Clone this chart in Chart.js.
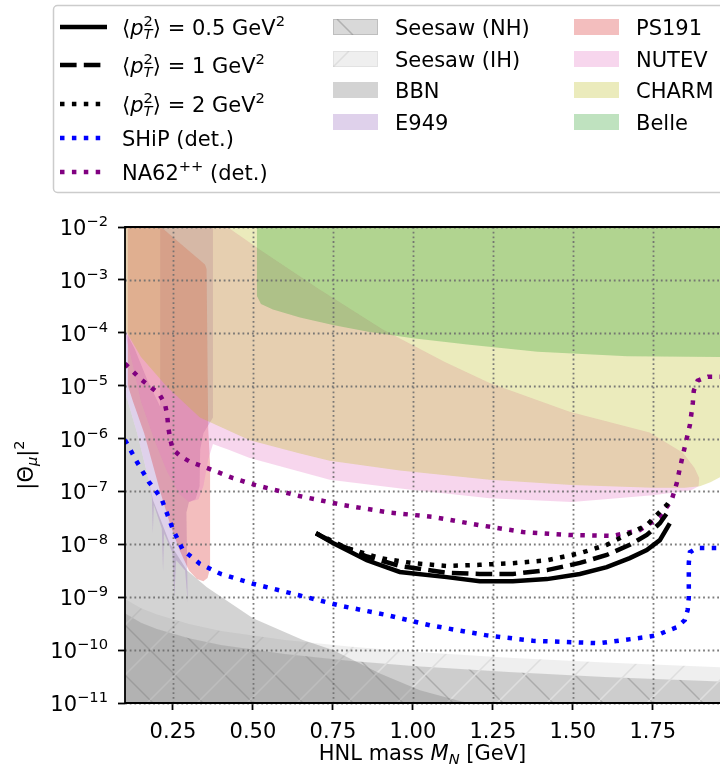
<!DOCTYPE html>
<html>
<head>
<meta charset="utf-8">
<title>HNL sensitivity</title>
<script src="https://cdn.jsdelivr.net/npm/chart.js@4.4.0/dist/chart.umd.min.js"></script>
<style>
  html, body { margin: 0; padding: 0; background: #fff; }
  canvas { display: block; }
</style>
</head>
<body>
<canvas id="hnlChart" width="720" height="769"></canvas>
<script>
// ---- axis ticks ----
const xTicks = [0.25, 0.5, 0.75, 1.0, 1.25, 1.5, 1.75];
const yTicks = [1e-11, 1e-10, 1e-9, 1e-8, 1e-7, 1e-6, 1e-5, 1e-4, 1e-3, 1e-2];
const yTickExp = ['−11', '−10', '−9', '−8', '−7', '−6', '−5', '−4', '−3', '−2'];

// ---- seesaw bands (filled down to the axis) ----
const seesawMass = [0.1, 0.15, 0.2, 0.3, 0.4, 0.6, 0.8, 1.0, 1.3, 1.6, 1.96];
const seesawNH = [5.0e-10, 3.3e-10, 2.5e-10, 1.67e-10, 1.25e-10, 8.4e-11, 6.3e-11, 5.0e-11, 3.85e-11, 3.1e-11, 2.55e-11];
const seesawIH = [9.3e-10, 6.2e-10, 4.7e-10, 3.1e-10, 2.3e-10, 1.55e-10, 1.17e-10, 9.3e-11, 7.2e-11, 5.8e-11, 4.75e-11];

// ---- BBN (filled down to the axis) ----
const bbnMass = [0.1, 0.109, 0.1375, 0.169, 0.1875, 0.24, 0.294, 0.356, 0.5, 0.656, 0.75, 0.897, 1.022, 1.14, 1.25];
const bbnMix = [7.1e-6, 5.0e-6, 1.3e-6, 2.2e-7, 6.9e-8, 1.05e-8, 3.2e-9, 1.55e-9, 4.0e-10, 1.55e-10, 1.0e-10, 3.6e-11, 1.74e-11, 1.12e-11, 7.9e-12];

// ---- E949 (closed outline) ----
const e949Mass = [0.1, 0.13, 0.17, 0.21, 0.21, 0.375, 0.375, 0.345, 0.335, 0.333, 0.32, 0.30, 0.292, 0.296, 0.288, 0.26, 0.254, 0.248, 0.222, 0.219, 0.215, 0.19, 0.187, 0.184, 0.169, 0.1375, 0.109, 0.1];
const e949Mix = [1.12e-4, 5.0e-5, 1.26e-5, 4.0e-6, 0.1, 0.1, 2.5e-6, 1.26e-6, 6.3e-7, 1.26e-7, 7.1e-8, 6.3e-8, 4.0e-8, 7.9e-10, 3.2e-9, 5.0e-9, 1.0e-9, 7.1e-9, 1.6e-8, 3.0e-9, 2.0e-8, 5.6e-8, 1.6e-8, 7.9e-8, 2.2e-7, 1.3e-6, 5.0e-6, 7.1e-6];

// ---- PS191 (closed outline) ----
const ps191Mass = [0.109, 0.2125, 0.35, 0.355, 0.36, 0.366, 0.366, 0.358, 0.345, 0.325, 0.30, 0.27, 0.24, 0.21, 0.16, 0.125, 0.109];
const ps191Mix = [0.0316, 1.0e-2, 1.95e-3, 1.6e-3, 1.6e-6, 3.2e-7, 3.5e-9, 2.3e-9, 2.0e-9, 2.2e-9, 3.2e-9, 7.9e-9, 2.5e-8, 1.0e-7, 1.26e-6, 5.0e-6, 1.0e-5];

// ---- NUTEV (closed outline) ----
const nutevMass = [0.1, 0.18, 0.42, 0.52, 0.70, 0.906, 1.1, 1.24, 1.49, 1.74, 1.844, 1.88, 1.895, 1.893, 1.87, 1.75, 1.497, 1.24, 1.0, 0.74, 0.49, 0.42, 0.40, 0.375, 0.36, 0.345, 0.33, 0.30, 0.27, 0.23, 0.19, 0.15, 0.12, 0.1];
const nutevMix = [0.1, 0.1, 1.0e-2, 3.8e-3, 7.1e-4, 1.15e-4, 2.8e-5, 1.12e-5, 3.2e-6, 1.3e-6, 5.4e-7, 2.8e-7, 1.8e-7, 1.26e-7, 1.05e-7, 8.5e-8, 6.3e-8, 7.4e-8, 1.07e-7, 1.66e-7, 4.3e-7, 6.3e-7, 6.9e-7, 7.9e-7, 4.0e-7, 1.26e-7, 7.1e-8, 6.3e-8, 8.9e-8, 2.5e-7, 1.0e-6, 5.0e-6, 3.2e-5, 1.0e-4];

// ---- CHARM (filled up to the top) ----
const charmMass = [0.1, 0.106, 0.15, 0.231, 0.334, 0.49, 0.647, 0.74, 0.959, 1.24, 1.497, 1.75, 1.85, 1.897, 1.93, 1.96];
const charmMix = [1.12e-4, 1.0e-4, 3.5e-5, 9.5e-6, 2.5e-6, 9.3e-7, 5.2e-7, 3.8e-7, 2.5e-7, 1.66e-7, 1.32e-7, 1.17e-7, 1.17e-7, 1.26e-7, 1.5e-7, 1.86e-7];

// ---- Belle (filled up to the top) ----
const belleMass = [0.512, 0.512, 0.525, 0.5625, 0.647, 0.75, 0.86, 1.0, 1.17, 1.39, 1.67, 1.96];
const belleMix = [0.1, 5.0e-4, 3.5e-4, 2.75e-4, 1.95e-4, 1.4e-4, 1.05e-4, 7.9e-5, 6.0e-5, 4.4e-5, 3.6e-5, 3.5e-5];

// ---- sensitivity curves ----
const pt05Mass = [0.697, 0.75, 0.856, 0.959, 1.106, 1.209, 1.3125, 1.419, 1.522, 1.606, 1.678, 1.731, 1.772, 1.803];
const pt05Mix = [1.62e-8, 1.06e-8, 5.0e-9, 3.0e-9, 2.4e-9, 2.0e-9, 2.0e-9, 2.2e-9, 2.75e-9, 3.7e-9, 5.5e-9, 7.8e-9, 1.2e-8, 2.5e-8];
const pt1Mass = [0.697, 0.75, 0.856, 0.959, 1.106, 1.209, 1.3125, 1.419, 1.522, 1.606, 1.678, 1.731, 1.772, 1.797];
const pt1Mix = [1.62e-8, 1.1e-8, 5.9e-9, 3.9e-9, 2.9e-9, 2.75e-9, 2.75e-9, 3.25e-9, 4.45e-9, 6.3e-9, 9.8e-9, 1.5e-8, 2.5e-8, 4.1e-8];
const pt2Mass = [0.697, 0.794, 0.897, 1.0, 1.106, 1.209, 1.3125, 1.419, 1.522, 1.606, 1.678, 1.731, 1.794, 1.81];
const pt2Mix = [1.62e-8, 8.5e-9, 5.5e-9, 4.4e-9, 3.9e-9, 4.1e-9, 4.4e-9, 5.0e-9, 6.8e-9, 9.8e-9, 1.62e-8, 2.3e-8, 5.6e-8, 7.6e-8];
const shipMass = [0.1, 0.1375, 0.175, 0.194, 0.2156, 0.25, 0.281, 0.334, 0.4, 0.5, 0.641, 0.778, 0.919, 1.053, 1.231, 1.375, 1.584, 1.725, 1.7625, 1.794, 1.825, 1.85, 1.859, 1.8625, 1.8625, 1.866, 1.8875, 1.96];
const shipMix = [9.4e-7, 3.6e-7, 1.5e-7, 1.07e-7, 6.9e-8, 1.9e-8, 7.8e-9, 4.3e-9, 2.75e-9, 1.8e-9, 1.1e-9, 6.8e-10, 4.6e-10, 2.95e-10, 1.9e-10, 1.5e-10, 1.35e-10, 1.75e-10, 1.9e-10, 2.3e-10, 2.7e-10, 3.7e-10, 5.8e-10, 1.0e-9, 4.5e-9, 7.1e-9, 8.5e-9, 8.5e-9];
const na62Mass = [0.1, 0.152, 0.207, 0.225, 0.232, 0.235, 0.2406, 0.249, 0.274, 0.305, 0.373, 0.438, 0.506, 0.645, 0.784, 0.926, 1.0625, 1.209, 1.344, 1.49, 1.625, 1.709, 1.772, 1.809, 1.825, 1.834, 1.85, 1.866, 1.875, 1.878, 1.89, 1.922, 1.96];
const na62Mix = [2.6e-5, 1.28e-5, 7.0e-6, 4.5e-6, 2.75e-6, 1.69e-6, 1.02e-6, 6.3e-7, 4.6e-7, 3.6e-7, 2.55e-7, 1.78e-7, 1.33e-7, 8.2e-8, 5.5e-8, 4.0e-8, 3.3e-8, 2.3e-8, 1.71e-8, 1.5e-8, 1.44e-8, 1.86e-8, 3.3e-8, 6.9e-8, 1.45e-7, 2.67e-7, 7.0e-7, 1.82e-6, 4.7e-6, 8.0e-6, 1.24e-5, 1.48e-5, 1.48e-5];

// ---- styling ----
const FONT = '"DejaVu Sans", sans-serif';
const FS = 21;
const LW = 4.5;
const DASHED = [16.6, 7.2];
const DOTTED = [4.5, 7.4];
const colors = {
    nh: 'rgba(128,128,128,0.3)',
    ih: 'rgba(128,128,128,0.13)',
    bbn: 'rgba(128,128,128,0.35)',
    e949: 'rgba(148,103,189,0.3)',
    ps191: 'rgba(214,39,40,0.3)',
    nutev: 'rgba(227,119,194,0.3)',
    charm: 'rgba(188,189,34,0.3)',
    belle: 'rgba(44,160,44,0.3)',
    ship: '#0000ff',
    na62: '#800080',
};

Chart.defaults.font.family = FONT;
Chart.defaults.color = '#000';

const canvas = document.getElementById('hnlChart');
const ctx = canvas.getContext('2d');

// hatch tile: dir '\\' or '/'
function hatch(fill, line, dir) {
    const s = 50;
    const c = document.createElement('canvas');
    c.width = s; c.height = s;
    const g = c.getContext('2d');
    g.fillStyle = fill;
    g.fillRect(0, 0, s, s);
    g.strokeStyle = line;
    g.lineWidth = 1.5;
    g.beginPath();
    for (const off of [-s, 0, s]) {
        if (dir === '/') { g.moveTo(off, s); g.lineTo(off + s, 0); }
        else { g.moveTo(off, 0); g.lineTo(off + s, s); }
    }
    g.stroke();
    return ctx.createPattern(c, 'repeat');
}
const nhPattern = hatch(colors.nh, 'rgba(128,128,128,0.45)', '\\');
const ihPattern = hatch(colors.ih, 'rgb(222,222,222)', '/');

const pts = (xs, ys) => xs.map((x, i) => ({ x: x, y: ys[i] }));

function region(label, xs, ys, color, fill, order) {
    return {
        label: label, data: pts(xs, ys), showLine: true, pointRadius: 0,
        borderWidth: 0, borderColor: 'rgba(0,0,0,0)', backgroundColor: color,
        fill: fill, order: order, tension: 0,
    };
}
function curve(label, xs, ys, color, dash) {
    return {
        label: label, data: pts(xs, ys), showLine: true, pointRadius: 0,
        borderWidth: LW, borderColor: color, borderDash: dash, borderCapStyle: 'butt',
        fill: false, order: 0, tension: 0,
    };
}

const datasets = [
    curve('pt05', pt05Mass, pt05Mix, '#000', []),
    curve('pt1', pt1Mass, pt1Mix, '#000', DASHED),
    curve('pt2', pt2Mass, pt2Mix, '#000', DOTTED),
    curve('SHiP', shipMass, shipMix, colors.ship, DOTTED),
    curve('NA62', na62Mass, na62Mix, colors.na62, DOTTED),
    region('Belle', belleMass, belleMix, colors.belle, 'end', 1),
    region('CHARM', charmMass, charmMix, colors.charm, 'end', 2),
    region('NUTEV', nutevMass, nutevMix, colors.nutev, 'shape', 3),
    region('PS191', ps191Mass, ps191Mix, colors.ps191, 'shape', 4),
    region('E949', e949Mass, e949Mix, colors.e949, 'shape', 5),
    region('BBN', bbnMass, bbnMix, colors.bbn, 'start', 6),
    region('Seesaw (IH)', seesawMass, seesawIH, ihPattern, 'start', 7),
    region('Seesaw (NH)', seesawMass, seesawNH, nhPattern, 'start', 8),
];

// ---- mathtext-like drawing ----
function rich(c, x, y, parts, size, draw) {
    let cx = x;
    const s = size * 0.7;
    for (const p of parts) {
        if (p.t !== undefined) {
            c.font = (p.it ? 'italic ' : '') + size + 'px ' + FONT;
            if (draw) c.fillText(p.t, cx, y);
            cx += c.measureText(p.t).width;
        } else {
            let w = 0;
            if (p.sup) {
                c.font = s + 'px ' + FONT;
                if (draw) c.fillText(p.sup, cx, y - size * 0.42);
                w = Math.max(w, c.measureText(p.sup).width);
            }
            if (p.sub) {
                c.font = (p.subIt ? 'italic ' : '') + s + 'px ' + FONT;
                if (draw) c.fillText(p.sub, cx, y + size * 0.2);
                w = Math.max(w, c.measureText(p.sub).width);
            }
            cx += w;
        }
    }
    return cx - x;
}

const lineEntries = [
    { y: 27, color: '#000', dash: [], parts: [{ t: '⟨' }, { t: 'p', it: true }, { sup: '2', sub: 'T', subIt: true }, { t: '⟩ = 0.5 GeV' }, { sup: '2' }] },
    { y: 65, color: '#000', dash: DASHED, parts: [{ t: '⟨' }, { t: 'p', it: true }, { sup: '2', sub: 'T', subIt: true }, { t: '⟩ = 1 GeV' }, { sup: '2' }] },
    { y: 104, color: '#000', dash: DOTTED, parts: [{ t: '⟨' }, { t: 'p', it: true }, { sup: '2', sub: 'T', subIt: true }, { t: '⟩ = 2 GeV' }, { sup: '2' }] },
    { y: 138, color: colors.ship, dash: DOTTED, parts: [{ t: 'SHiP (det.)' }] },
    { y: 172, color: colors.na62, dash: DOTTED, parts: [{ t: 'NA62' }, { sup: '++' }, { t: ' (det.)' }] },
];
const patchEntries = [
    { x: 333, y: 27, fill: colors.nh, hatch: '\\', label: 'Seesaw (NH)' },
    { x: 333, y: 59, fill: colors.ih, hatch: '/', label: 'Seesaw (IH)' },
    { x: 333, y: 90, fill: colors.bbn, label: 'BBN' },
    { x: 333, y: 122, fill: colors.e949, label: 'E949' },
    { x: 574, y: 27, fill: colors.ps191, label: 'PS191' },
    { x: 574, y: 59, fill: colors.nutev, label: 'NUTEV' },
    { x: 574, y: 90, fill: colors.charm, label: 'CHARM' },
    { x: 574, y: 122, fill: colors.belle, label: 'Belle' },
];

const decorations = {
    id: 'decorations',
    afterDatasetDraw(chart, args) {
        if (args.meta.label !== 'Belle') return;
        // dotted grid between the filled regions and the curves
        const c = chart.ctx, a = chart.chartArea;
        const xs = chart.scales.x, ys = chart.scales.y;
        c.save();
        c.strokeStyle = 'rgba(110,110,110,0.9)';
        c.lineWidth = 1.8;
        c.setLineDash([1.8, 2.9]);
        for (const v of xTicks) {
            const px = Math.round(xs.getPixelForValue(v)) + 0.5;
            c.beginPath(); c.moveTo(px, a.top); c.lineTo(px, a.bottom); c.stroke();
        }
        for (const v of yTicks) {
            const py = Math.round(ys.getPixelForValue(v)) + 0.5;
            c.beginPath(); c.moveTo(a.left, py); c.lineTo(a.right, py); c.stroke();
        }
        c.restore();
    },
    afterDraw(chart) {
        const c = chart.ctx, a = chart.chartArea;
        const ys = chart.scales.y;
        c.save();
        // spines
        c.strokeStyle = '#000';
        c.lineWidth = 1.8;
        c.setLineDash([]);
        c.beginPath();
        c.moveTo(a.right + 5, a.top); c.lineTo(a.left, a.top);
        c.lineTo(a.left, a.bottom); c.lineTo(a.right + 5, a.bottom);
        c.stroke();

        // y tick labels 10^n
        c.fillStyle = '#000';
        c.textBaseline = 'alphabetic';
        yTicks.forEach((v, i) => {
            const py = ys.getPixelForValue(v);
            const parts = [{ t: '10' }, { sup: yTickExp[i] }];
            const w = rich(c, 0, 0, parts, FS, false);
            rich(c, 108 - w, py + 8, parts, FS, true);
        });

        // x axis title
        const xParts = [{ t: 'HNL mass ' }, { t: 'M', it: true }, { sub: 'N', subIt: true }, { t: ' [GeV]' }];
        const xw = rich(c, 0, 0, xParts, FS, false);
        rich(c, (a.left + a.right) / 2 - xw / 2, 760, xParts, FS, true);

        // y axis title
        const yParts = [{ t: '|Θ' }, { sub: 'μ', subIt: true }, { t: '|' }, { sup: '2' }];
        const yw = rich(c, 0, 0, yParts, FS, false);
        c.save();
        c.translate(33, (a.top + a.bottom) / 2);
        c.rotate(-Math.PI / 2);
        rich(c, -yw / 2, 0, yParts, FS, true);
        c.restore();

        // legend frame
        c.fillStyle = 'rgba(255,255,255,0.8)';
        c.strokeStyle = '#cccccc';
        c.lineWidth = 1.5;
        c.beginPath();
        c.roundRect(53.5, 5.5, 720, 187, 4);
        c.fill(); c.stroke();

        // legend: curves
        c.fillStyle = '#000';
        for (const e of lineEntries) {
            c.strokeStyle = e.color;
            c.lineWidth = LW;
            c.lineCap = 'butt';
            c.setLineDash(e.dash);
            c.beginPath(); c.moveTo(60, e.y); c.lineTo(107, e.y); c.stroke();
            c.setLineDash([]);
            rich(c, 122, e.y + 7.5, e.parts, FS, true);
        }
        // legend: patches
        for (const e of patchEntries) {
            const x = e.x, y = e.y - 8, w = 45, h = 16;
            c.fillStyle = e.fill;
            c.fillRect(x, y, w, h);
            if (e.hatch) {
                c.save();
                c.beginPath(); c.rect(x, y, w, h); c.clip();
                c.strokeStyle = e.hatch === '/' ? 'rgb(222,222,222)' : 'rgba(128,128,128,0.45)';
                c.lineWidth = 1.5;
                c.beginPath();
                if (e.hatch === '/') { c.moveTo(x, y + h); c.lineTo(x + 16, y); }
                else { c.moveTo(x + 4, y); c.lineTo(x + 20, y + h); }
                c.stroke();
                c.restore();
                c.strokeStyle = e.hatch === '/' ? 'rgba(128,128,128,0.12)' : 'rgba(128,128,128,0.3)';
                c.lineWidth = 1;
                c.strokeRect(x + 0.5, y + 0.5, w - 1, h - 1);
            }
            c.fillStyle = '#000';
            c.font = FS + 'px ' + FONT;
            c.fillText(e.label, x + 62, e.y + 7.5);
        }
        c.restore();
    },
};

new Chart(ctx, {
    type: 'scatter',
    data: { datasets: datasets },
    options: {
        responsive: false,
        animation: false,
        devicePixelRatio: 1,
        events: [],
        layout: { padding: { top: 227, left: 0, right: 0, bottom: 0 } },
        plugins: {
            legend: { display: false },
            tooltip: { enabled: false },
        },
        scales: {
            x: {
                type: 'linear',
                min: 0.1,
                max: 1.96,
                afterBuildTicks: (scale) => { scale.ticks = xTicks.map(v => ({ value: v })); },
                afterFit: (scale) => { scale.height = 66; },
                ticks: {
                    autoSkip: false,
                    maxRotation: 0,
                    padding: 10,
                    font: { size: FS },
                    color: '#000',
                    callback: (v) => Number(v).toFixed(2),
                },
                grid: { drawOnChartArea: false, drawTicks: true, tickLength: 7, tickWidth: 1.8, tickColor: '#000' },
                border: { display: false },
            },
            y: {
                type: 'logarithmic',
                min: 1e-11,
                max: 1e-2,
                afterBuildTicks: (scale) => { scale.ticks = yTicks.map(v => ({ value: v, major: true })); },
                afterFit: (scale) => { scale.width = 125; },
                ticks: { display: false },
                grid: { drawOnChartArea: false, drawTicks: true, tickLength: 7, tickWidth: 1.8, tickColor: '#000' },
                border: { display: false },
            },
        },
    },
    plugins: [decorations],
});
</script>
</body>
</html>
